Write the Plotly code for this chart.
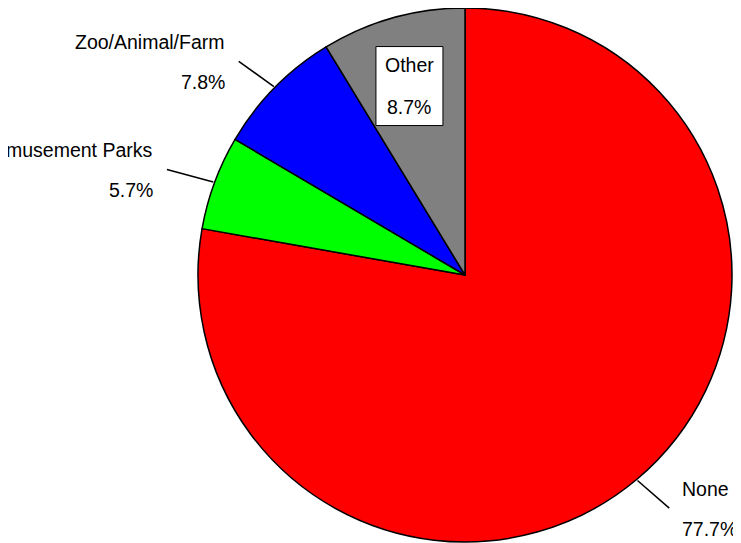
import math
import plotly.graph_objects as go

# ---- data ----
categories = ["None", "Amusement Parks", "Zoo/Animal/Farm", "Other"]
values = [77.7, 5.7, 7.8, 8.7]
colors = ["#FF0000", "#00FF00", "#0000FF", "#808080"]
label_inside = [False, False, False, True]

W, H = 741, 543
OFF = 8  # default page body margin shifts the plot by this many pixels
R = 267.0
CX, CY = 465.0 - OFF, R  # pie centre in figure pixels (top touches the figure top)

def px(x):
    return x / W

def py(y):
    return 1 - y / H

fig = go.Figure(go.Pie(
    labels=categories,
    values=values,
    sort=False,
    direction="clockwise",
    rotation=0,
    marker=dict(colors=colors, line=dict(color="black", width=1.5)),
    textinfo="none",
    hoverinfo="label+percent",
    showlegend=False,
    domain=dict(x=[(CX - R) / W, (CX + R) / W],
                y=[max(0.0, py(CY + R)), min(1.0, py(CY - R))]),
))

font = dict(family="Arial, Liberation Sans, sans-serif", size=19.5, color="black")
total = sum(values)
cum = 0.0
annotations, shapes = [], []
for cat, v, inside in zip(categories, values, label_inside):
    mid = (cum + v / 2) / total * 2 * math.pi
    cum += v
    sx, sy = math.sin(mid), -math.cos(mid)
    pct = f"{v:.1f}%"
    if inside:
        bx, by = CX + sx * R * 0.77, CY + sy * R * 0.735
        shapes.append(dict(type="rect", xref="paper", yref="paper",
                           x0=px(bx - 33.5), x1=px(bx + 33.5),
                           y0=py(by + 39.5), y1=py(by - 39.5),
                           fillcolor="white", line=dict(color="black", width=1)))
        annotations.append(dict(x=px(bx), y=py(by - 21), xref="paper", yref="paper",
                                text=cat, showarrow=False, font=font,
                                xanchor="center", yanchor="middle"))
        annotations.append(dict(x=px(bx), y=py(by + 21), xref="paper", yref="paper",
                                text=pct, showarrow=False, font=font,
                                xanchor="center", yanchor="middle"))
    else:
        x0, y0 = CX + sx * R * 1.005, CY + sy * R * 1.005
        x1, y1 = CX + sx * R * 1.19, CY + sy * R * 1.14
        shapes.append(dict(type="line", xref="paper", yref="paper",
                           x0=px(x0), y0=py(y0), x1=px(x1), y1=py(y1),
                           line=dict(color="black", width=1.5)))
        right = sx > 0
        tx = x1 + 11 if right else x1 - 12
        anchor = "left" if right else "right"
        annotations.append(dict(x=px(tx), y=py(y1 - 19.5), xref="paper", yref="paper",
                                text=cat, showarrow=False, font=font,
                                xanchor=anchor, yanchor="middle"))
        annotations.append(dict(x=px(tx), y=py(y1 + 20.5), xref="paper", yref="paper",
                                text=pct, showarrow=False, font=font,
                                xanchor=anchor, yanchor="middle"))

fig.update_layout(
    width=W, height=H,
    margin=dict(l=0, r=0, t=0, b=0),
    paper_bgcolor="white", plot_bgcolor="white",
    annotations=annotations, shapes=shapes,
)

fig.write_html("out.html")
